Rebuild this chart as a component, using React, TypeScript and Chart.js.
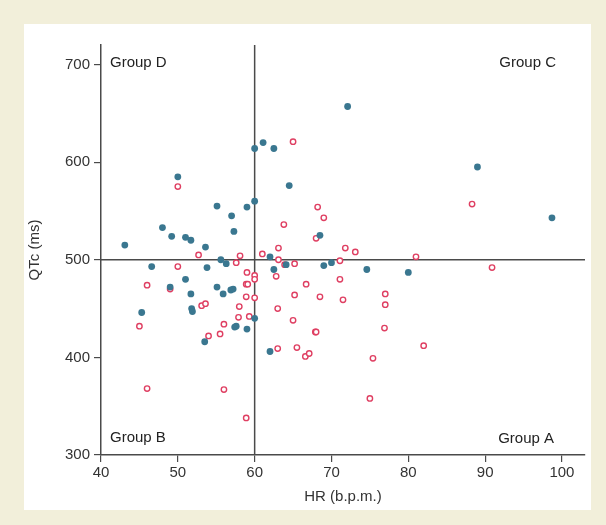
import React, { useEffect, useRef } from "react";
import { Chart, registerables } from "chart.js";

Chart.register(...registerables);

// Filled (teal) points: HR (b.p.m.) and QTc (ms)
const blueHR = [43.1, 46.6, 45.3, 48.0, 49.0, 49.2, 50.0, 51.0, 51.7, 51.0, 51.7, 51.8, 51.9, 53.6, 53.8, 53.5, 55.1, 55.1, 55.6, 56.3, 55.9, 57.0, 57.3, 56.9, 57.2, 57.4, 57.6, 59.0, 59.0, 60.0, 60.0, 60.0, 61.1, 62.0, 62.5, 62.5, 62.0, 64.1, 64.5, 68.5, 69.0, 70.0, 72.1, 74.6, 80.0, 89.0, 98.7];
const blueQTc = [515, 493, 446, 533, 472, 524, 585, 523, 520, 480, 465, 450, 447, 513, 492, 416, 555, 472, 500, 496, 465, 545, 529, 469, 470, 431, 432, 554, 429, 560, 614, 440, 620, 503, 614, 490, 406, 495, 576, 525, 494, 497, 657, 490, 487, 595, 543];

// Hollow (red) points
const redHR = [50.0, 52.7, 50.0, 46.0, 49.0, 45.0, 46.0, 53.1, 53.6, 54.0, 55.5, 56.0, 56.0, 58.1, 57.6, 59.0, 58.9, 59.1, 58.9, 58.0, 57.9, 59.3, 58.9, 60.0, 60.0, 60.0, 61.0, 63.1, 63.1, 62.8, 63.0, 63.0, 63.8, 63.9, 65.0, 65.2, 65.2, 65.0, 65.5, 66.7, 66.6, 67.1, 67.9, 68.0, 68.0, 68.2, 69.0, 68.5, 71.1, 71.1, 71.5, 71.8, 73.1, 77.0, 77.0, 76.9, 75.4, 75.0, 81.0, 82.0, 88.3, 90.9];
const redQTc = [575, 505, 493, 474, 470, 432, 368, 453, 455, 422, 424, 434, 367, 504, 497, 487, 475, 475, 462, 452, 441, 442, 338, 484, 480, 461, 506, 512, 500, 483, 450, 409, 536, 495, 621, 496, 464, 438, 410, 475, 401, 404, 426, 426, 522, 554, 543, 462, 499, 480, 459, 512, 508, 465, 454, 430, 399, 358, 503, 412, 557, 492];

// Axes and reference lines
const xTicks = [40, 50, 60, 70, 80, 90, 100];
const yTicks = [300, 400, 500, 600, 700];
const xRange = [40, 103];
const yRange = [300, 720];
const refHR = 60;
const refQTc = 500;
const groupLabels = ["Group A", "Group B", "Group C", "Group D"];

const FONT = "'Liberation Sans', Arial, Helvetica, sans-serif";

export default function App() {
  const canvasRef = useRef<HTMLCanvasElement | null>(null);

  useEffect(() => {
    const canvas = canvasRef.current;
    if (!canvas) return;

    const groupPlugin = {
      id: "groupLabels",
      afterDraw(chart: any) {
        const { ctx, chartArea } = chart;
        const { left, right, top, bottom } = chartArea;
        ctx.save();
        ctx.font = `15px ${FONT}`;
        ctx.fillStyle = "#222";
        ctx.textBaseline = "middle";
        ctx.textAlign = "left";
        ctx.fillText(groupLabels[3], left + 9, top + 18);
        ctx.fillText(groupLabels[1], left + 9, bottom - 17);
        ctx.textAlign = "right";
        ctx.fillText(groupLabels[2], right - 29, top + 18);
        ctx.fillText(groupLabels[0], right - 31, bottom - 16);
        ctx.restore();
      },
    };

    const chart = new Chart(canvas, {
      type: "scatter",
      data: {
        datasets: [
          {
            label: "filled",
            data: blueHR.map((x, i) => ({ x, y: blueQTc[i] })),
            backgroundColor: "#3a7790",
            borderColor: "#3a7790",
            borderWidth: 0,
            pointRadius: 3.4,
          },
          {
            label: "hollow",
            data: redHR.map((x, i) => ({ x, y: redQTc[i] })),
            backgroundColor: "#ffffff",
            borderColor: "#df3f62",
            borderWidth: 1.4,
            pointRadius: 2.7,
          },
          {
            label: "vref",
            data: [
              { x: refHR, y: yRange[0] },
              { x: refHR, y: yRange[1] },
            ],
            showLine: true,
            borderColor: "#4a4a4a",
            borderWidth: 1.5,
            pointRadius: 0,
          },
          {
            label: "href",
            data: [
              { x: xRange[0], y: refQTc },
              { x: xRange[1], y: refQTc },
            ],
            showLine: true,
            borderColor: "#4a4a4a",
            borderWidth: 1.5,
            pointRadius: 0,
          },
        ],
      },
      options: {
        responsive: false,
        animation: false,
        devicePixelRatio: 1,
        layout: { padding: { left: 0, right: 6, top: 21, bottom: 0 } },
        plugins: {
          legend: { display: false },
          tooltip: { enabled: false },
        },
        scales: {
          x: {
            type: "linear",
            min: xRange[0],
            max: xRange[1],
            afterBuildTicks: (scale: any) => {
              scale.ticks = xTicks.map((v) => ({ value: v }));
            },
            afterFit: (scale: any) => {
              scale.height = 55;
            },
            border: { display: true, color: "#4a4a4a", width: 1.5 },
            grid: {
              display: true,
              drawOnChartArea: false,
              drawTicks: true,
              tickLength: 7,
              color: "#4a4a4a",
              lineWidth: 1.2,
            },
            ticks: {
              color: "#333",
              font: { family: FONT, size: 15 },
              padding: 2,
              maxRotation: 0,
            },
            title: {
              display: true,
              text: "HR (b.p.m.)",
              color: "#333",
              font: { family: FONT, size: 15 },
              padding: { top: 4, bottom: 4 },
            },
          },
          y: {
            type: "linear",
            min: yRange[0],
            max: yRange[1],
            afterBuildTicks: (scale: any) => {
              scale.ticks = yTicks.map((v) => ({ value: v }));
            },
            afterFit: (scale: any) => {
              scale.width = 77;
            },
            border: { display: true, color: "#4a4a4a", width: 1.5 },
            grid: {
              display: true,
              drawOnChartArea: false,
              drawTicks: true,
              tickLength: 7,
              color: "#4a4a4a",
              lineWidth: 1.2,
            },
            ticks: {
              color: "#333",
              font: { family: FONT, size: 15 },
              padding: 4,
            },
            title: {
              display: true,
              text: "QTc (ms)",
              color: "#333",
              font: { family: FONT, size: 15 },
              padding: { top: 2, bottom: 0 },
            },
          },
        },
      },
      plugins: [groupPlugin],
    } as any);

    return () => chart.destroy();
  }, []);

  return (
    <div
      style={{
        position: "fixed",
        left: 0,
        top: 0,
        width: 606,
        height: 525,
        background: "#f2efda",
      }}
    >
      <div
        style={{
          position: "absolute",
          left: 24,
          top: 24,
          width: 567,
          height: 486,
          background: "#ffffff",
        }}
      >
        <canvas ref={canvasRef} width={567} height={486} style={{ display: "block" }} />
      </div>
    </div>
  );
}
